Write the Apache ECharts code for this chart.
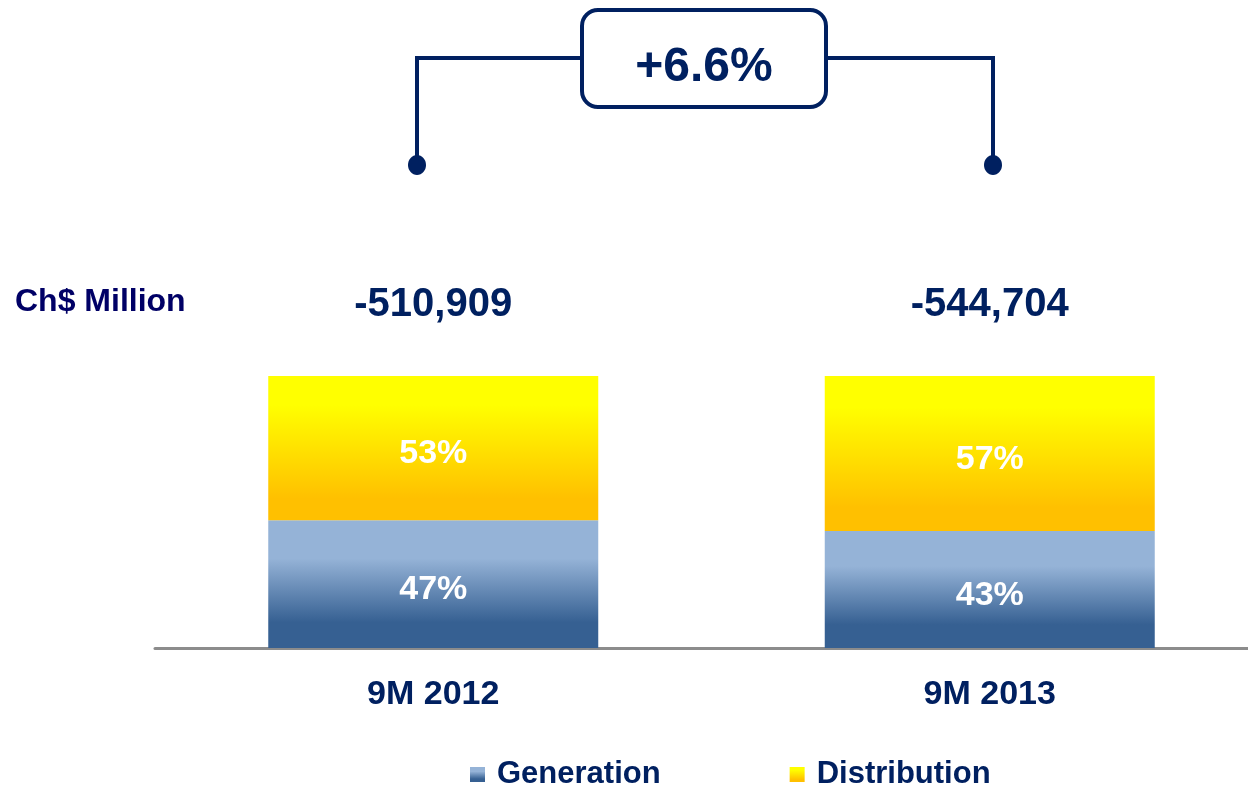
<!DOCTYPE html>
<html lang="en">
<head>
    <meta charset="UTF-8">
    <title>Generation / Distribution 9M</title>
    <script src="https://cdn.jsdelivr.net/npm/echarts@6/dist/echarts.min.js"></script>
    <style>
        html, body { margin: 0; padding: 0; background: #fff; }
        #main { width: 1248px; height: 787px; }
    </style>
</head>
<body>
    <div id="main"></div>
    <script>
        // data
        var categories = ['9M 2012', '9M 2013'];
        var generation = [47, 43];
        var distribution = [53, 57];
        var totals = [-510909, -544704];
        var changeLabel = '+6.6%';

        var navy = '#002060';
        var font = 'Liberation Sans, Arial, sans-serif';

        var blueGrad = new echarts.graphic.LinearGradient(0, 0, 0, 1, [
            { offset: 0, color: '#95B3D7' },
            { offset: 0.3, color: '#95B3D7' },
            { offset: 0.8, color: '#366092' },
            { offset: 1, color: '#366092' }
        ]);
        var yellowGrad = new echarts.graphic.LinearGradient(0, 0, 0, 1, [
            { offset: 0, color: '#FFFF00' },
            { offset: 0.2, color: '#FFFF00' },
            { offset: 0.85, color: '#FFC000' },
            { offset: 1, color: '#FFC000' }
        ]);

        function fmt(v) {
            return (v < 0 ? '-' : '') + Math.abs(v).toString().replace(/\B(?=(\d{3})+(?!\d))/g, ',');
        }

        var pctLabel = {
            show: true, position: 'inside', offset: [0, 6],
            formatter: '{c}%',
            fontSize: 34, fontWeight: 'bold', color: '#fff', fontFamily: font
        };

        var myChart = echarts.init(document.getElementById('main'));
        var option = {
            animation: false,
            textStyle: { fontFamily: font },
            // grid runs past the right edge so the bars land where the reference has them
            grid: { left: 155, width: 1113, top: 376, height: 272, outerBoundsMode: 'none' },
            legend: {
                left: 470, top: 759, padding: 0,
                itemWidth: 15, itemHeight: 15, itemGap: 129,
                icon: 'rect',
                textStyle: { fontSize: 31, fontWeight: 'bold', color: navy, fontFamily: font, padding: [0, 0, 0, 7] },
                data: ['Generation', 'Distribution']
            },
            xAxis: {
                type: 'category',
                data: categories,
                axisTick: { show: false },
                axisLine: { lineStyle: { color: '#8C8C8C', width: 3 } },
                axisLabel: { fontSize: 34, fontWeight: 'bold', color: navy, margin: 30, fontFamily: font }
            },
            yAxis: {
                type: 'value', min: 0, max: 100,
                show: false, splitLine: { show: false }
            },
            series: [{
                name: 'Generation',
                type: 'bar',
                stack: 'total',
                barWidth: 330,
                data: generation,
                itemStyle: { color: blueGrad },
                label: pctLabel
            }, {
                name: 'Distribution',
                type: 'bar',
                stack: 'total',
                barWidth: 330,
                data: distribution,
                itemStyle: { color: yellowGrad },
                label: pctLabel
            }, {
                name: 'Total',
                type: 'bar',
                stack: 'total',
                barWidth: 330,
                data: [0, 0],
                itemStyle: { color: 'transparent' },
                label: {
                    show: true, position: 'top', distance: 51,
                    formatter: function (p) { return fmt(totals[p.dataIndex]); },
                    fontSize: 40, fontWeight: 'bold', color: navy, fontFamily: font
                }
            }],
            graphic: [{
                type: 'text', left: 15, top: 286,
                style: { text: 'Ch$ Million', font: 'bold 32px ' + font, fill: '#000066' }
            }, {
                type: 'polyline',
                shape: { points: [[417, 165], [417, 58], [582, 58]] },
                style: { stroke: navy, lineWidth: 4, fill: null }
            }, {
                type: 'polyline',
                shape: { points: [[826, 58], [993, 58], [993, 165]] },
                style: { stroke: navy, lineWidth: 4, fill: null }
            }, {
                type: 'ellipse', shape: { cx: 417, cy: 165, rx: 9, ry: 10 },
                style: { fill: navy }
            }, {
                type: 'ellipse', shape: { cx: 993, cy: 165, rx: 9, ry: 10 },
                style: { fill: navy }
            }, {
                type: 'rect',
                shape: { x: 582, y: 10, width: 244, height: 97, r: 16 },
                style: { fill: '#fff', stroke: navy, lineWidth: 4 }
            }, {
                type: 'text', x: 704, y: 68,
                style: {
                    text: changeLabel, font: 'bold 48px ' + font, fill: navy,
                    align: 'center', verticalAlign: 'middle'
                }
            }]
        };
        myChart.setOption(option);
    </script>
</body>
</html>
